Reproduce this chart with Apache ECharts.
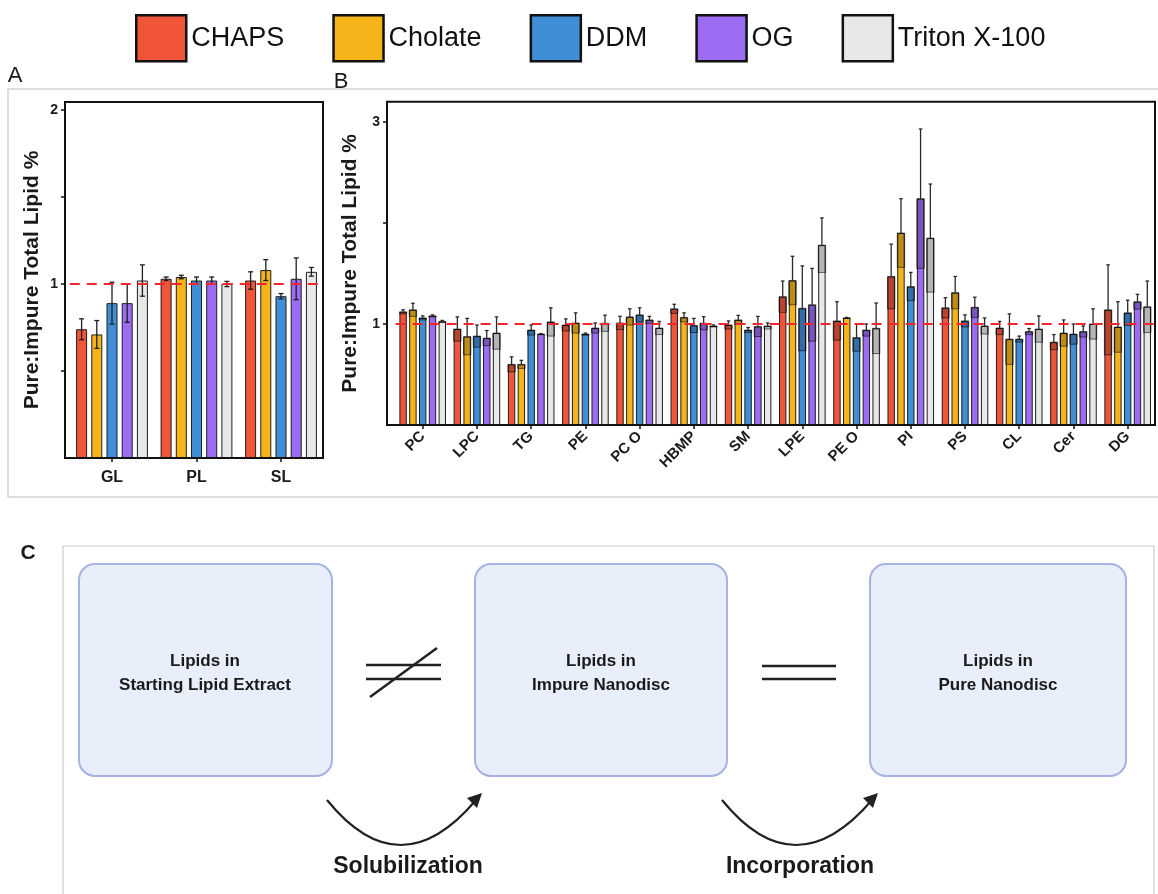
<!DOCTYPE html>
<html>
<head>
<meta charset="utf-8">
<script src="https://cdn.jsdelivr.net/npm/echarts@6/dist/echarts.min.js"></script>
<style>
html,body{margin:0;padding:0;background:#fff;}
#chart{width:1158px;height:894px;}
</style>
</head>
<body>
<div id="chart"></div>
<script>
// ---------------- DATA ----------------
const DETERGENTS = ['CHAPS', 'Cholate', 'DDM', 'OG', 'Triton X-100'];

// Panel A: lipid categories
const CATS_A = ['GL', 'PL', 'SL'];
// rows: CHAPS, Cholate, DDM, OG, Triton X-100
const A_MEANS = [
  [0.74, 1.03, 1.02],
  [0.71, 1.04, 1.08],
  [0.89, 1.02, 0.93],
  [0.89, 1.02, 1.03],
  [1.02, 1.00, 1.07]
];
const A_ERRS = [
  [0.06, 0.01, 0.05],
  [0.08, 0.01, 0.06],
  [0.12, 0.02, 0.015],
  [0.11, 0.02, 0.12],
  [0.09, 0.015, 0.025]
];

// Panel B: lipid classes
const CATS_B = ['PC', 'LPC', 'TG', 'PE', 'PC O', 'HBMP', 'SM', 'LPE', 'PE O', 'PI', 'PS', 'CL', 'Cer', 'DG'];
const B_MEANS = [
  [1.12, 0.95, 0.60, 0.99, 1.01, 1.15, 0.99, 1.27, 1.03, 1.47, 1.16, 0.96, 0.82, 1.14],
  [1.14, 0.875, 0.60, 1.01, 1.07, 1.065, 1.04, 1.43, 1.06, 1.90, 1.31, 0.85, 0.91, 0.97],
  [1.06, 0.88, 0.94, 0.90, 1.09, 0.985, 0.94, 1.155, 0.865, 1.37, 1.03, 0.85, 0.90, 1.11],
  [1.08, 0.86, 0.90, 0.96, 1.04, 1.007, 0.975, 1.19, 0.94, 2.24, 1.165, 0.925, 0.925, 1.22],
  [1.025, 0.91, 1.02, 1.007, 0.96, 0.98, 0.98, 1.78, 0.957, 1.85, 0.98, 0.95, 1.00, 1.17]
];
const B_ERRS = [
  [0.02, 0.12, 0.075, 0.06, 0.066, 0.045, 0.04, 0.155, 0.19, 0.32, 0.10, 0.065, 0.075, 0.445],
  [0.065, 0.18, 0.04, 0.10, 0.08, 0.045, 0.045, 0.24, 0.005, 0.34, 0.16, 0.25, 0.13, 0.25],
  [0.02, 0.11, 0.05, 0.01, 0.07, 0.07, 0.025, 0.42, 0.135, 0.14, 0.06, 0.03, 0.10, 0.125],
  [0.01, 0.075, 0.005, 0.05, 0.035, 0.065, 0.10, 0.36, 0.06, 0.69, 0.10, 0.03, 0.055, 0.073],
  [0.01, 0.16, 0.14, 0.08, 0.065, 0.01, 0.03, 0.27, 0.25, 0.535, 0.08, 0.13, 0.15, 0.255]
];

const A_LABEL_TICKS = [1, 2];
const A_TICKS = [0.5, 1, 1.5, 2];
const B_LABEL_TICKS = [1, 3];
const B_TICKS = [1, 2, 3];
const REF_VALUE = 1;

const Y_TITLE = 'Pure:Impure Total Lipid %';

// ---------------- STYLE ----------------
const COLORS = ['#f0553a', '#f5b41a', '#3f8ed6', '#9c6cf2', '#e8e8e8'];
const FONT = "'Liberation Sans', Arial, Helvetica, sans-serif";

const A_BAR_W = 11, A_PITCH = 15.2;
const B_BAR_W = 7.4, B_PITCH = 9.8;

function errA(off) {
  return function (params, api) {
    const k = api.value(0), m = api.value(1), e = api.value(2);
    const t = api.coord([k, m + e]);
    const b = api.coord([k, m - e]);
    const c = api.coord([k, m]);
    const x = c[0] + off;
    const st = { stroke: '#1e1e1e', lineWidth: 1.3 };
    const cw = 2.5;
    return {
      type: 'group', children: [
        { type: 'line', shape: { x1: x, y1: t[1], x2: x, y2: b[1] }, style: st },
        { type: 'line', shape: { x1: x - cw, y1: t[1], x2: x + cw, y2: t[1] }, style: st },
        { type: 'line', shape: { x1: x - cw, y1: b[1], x2: x + cw, y2: b[1] }, style: st }
      ]
    };
  };
}
function errB(off) {
  return function (params, api) {
    const k = api.value(0), m = api.value(1), e = api.value(2);
    const t = api.coord([k, m + e]);
    const b = api.coord([k, m - e]);
    const c = api.coord([k, m]);
    const x = c[0] + off;
    const w = B_BAR_W;
    const cw = 1.8;
    return {
      type: 'group', children: [
        { type: 'rect', shape: { x: x - w / 2, y: c[1], width: w, height: b[1] - c[1] },
          style: { fill: 'rgba(0,0,0,0.22)', stroke: 'rgba(0,0,0,0.55)', lineWidth: 1 } },
        { type: 'line', shape: { x1: x, y1: t[1], x2: x, y2: c[1] }, style: { stroke: '#2a2a2a', lineWidth: 1.3 } },
        { type: 'line', shape: { x1: x - cw, y1: t[1], x2: x + cw, y2: t[1] }, style: { stroke: '#2a2a2a', lineWidth: 1.3 } }
      ]
    };
  };
}

const refLine = {
  silent: true, symbol: 'none', label: { show: false },
  lineStyle: { color: '#f2262e', type: [10, 7], width: 2 },
  emphasis: { disabled: true },
  data: [{ yAxis: REF_VALUE }]
};

const series = [];
DETERGENTS.forEach(function (name, i) {
  series.push({
    type: 'bar', name: name, xAxisIndex: 0, yAxisIndex: 0,
    data: A_MEANS[i], barWidth: A_BAR_W, barGap: ((A_PITCH - A_BAR_W) / A_BAR_W * 100).toFixed(1) + '%',
    itemStyle: { color: COLORS[i], borderColor: '#1e1e1e', borderWidth: 1 },
    emphasis: { disabled: true },
    markLine: i === 4 ? refLine : undefined
  });
  series.push({
    type: 'bar', name: name, xAxisIndex: 1, yAxisIndex: 1,
    data: B_MEANS[i], barWidth: B_BAR_W, barGap: ((B_PITCH - B_BAR_W) / B_BAR_W * 100).toFixed(1) + '%',
    itemStyle: { color: COLORS[i], borderColor: '#1e1e1e', borderWidth: 1 },
    emphasis: { disabled: true },
    markLine: i === 4 ? refLine : undefined
  });
});
DETERGENTS.forEach(function (name, i) {
  series.push({
    type: 'custom', name: 'errA' + i, xAxisIndex: 0, yAxisIndex: 0, z: 3, silent: true,
    encode: { x: 0, y: 1 },
    data: A_MEANS[i].map(function (m, k) { return [k, m, A_ERRS[i][k]]; }),
    renderItem: errA((i - 2) * A_PITCH)
  });
  series.push({
    type: 'custom', name: 'errB' + i, xAxisIndex: 1, yAxisIndex: 1, z: 3, silent: true,
    encode: { x: 0, y: 1 },
    data: B_MEANS[i].map(function (m, k) { return [k, m, B_ERRS[i][k]]; }),
    renderItem: errB((i - 2) * B_PITCH)
  });
});

const axisLabelStyle = { color: '#1a1a1a', fontWeight: 'bold', fontFamily: FONT };

function box(x, y, w, h) {
  return { type: 'rect', shape: { x: x, y: y, width: w, height: h, r: 16 },
    style: { fill: '#e9eefb', stroke: '#a6b2e2', lineWidth: 2 } };
}
function txt(x, y, s, size, align, weight) {
  return { type: 'text', x: x, y: y,
    style: { text: s, fontSize: size, fontFamily: FONT, fontWeight: weight || 'bold', fill: '#1a1a1a',
      align: align || 'center', verticalAlign: 'middle' } };
}
function seg(x1, y1, x2, y2, w) {
  return { type: 'line', shape: { x1: x1, y1: y1, x2: x2, y2: y2 }, style: { stroke: '#222', lineWidth: w || 2.5 } };
}

const graphic = [
  // panel frames (light gray)
  { type: 'rect', shape: { x: 8, y: 89, width: 1170, height: 408 }, style: { fill: 'none', stroke: '#d2d2d2', lineWidth: 1.5 }, z: -1 },
  // plot frames
  { type: 'rect', shape: { x: 65, y: 102, width: 258, height: 356 }, style: { fill: 'none', stroke: '#111', lineWidth: 2 }, z: 20 },
  { type: 'rect', shape: { x: 387, y: 101.7, width: 768, height: 323.3 }, style: { fill: 'none', stroke: '#111', lineWidth: 2 }, z: 20 },
  txt(15, 76, 'A', 22, 'center', 'normal'),
  txt(341, 82, 'B', 22, 'center', 'normal'),
  // panel C
  txt(28, 553, 'C', 21, 'center', 'bold'),
  { type: 'rect', shape: { x: 63, y: 546, width: 1091, height: 380 }, style: { fill: '#fff', stroke: '#cccccc', lineWidth: 1.2 }, z: -1 },
  box(79, 564, 253, 212),
  box(475, 564, 252, 212),
  box(870, 564, 256, 212),
  txt(205, 661, 'Lipids in', 17),
  txt(205, 685, 'Starting Lipid Extract', 17),
  txt(601, 661, 'Lipids in', 17),
  txt(601, 685, 'Impure Nanodisc', 17),
  txt(998, 661, 'Lipids in', 17),
  txt(998, 685, 'Pure Nanodisc', 17),
  seg(366, 665, 441, 665), seg(366, 679, 441, 679), seg(370, 697, 437, 648),
  seg(762, 666, 836, 666), seg(762, 679, 836, 679),
  { type: 'bezierCurve', shape: { x1: 327, y1: 800, x2: 476, y2: 800, cpx1: 400, cpy1: 890 }, style: { stroke: '#222', lineWidth: 2.2, fill: 'none' } },
  { type: 'polygon', shape: { points: [[482, 793], [467, 798], [477, 808]] }, style: { fill: '#222' } },
  { type: 'bezierCurve', shape: { x1: 722, y1: 800, x2: 872, y2: 800, cpx1: 795, cpy1: 890 }, style: { stroke: '#222', lineWidth: 2.2, fill: 'none' } },
  { type: 'polygon', shape: { points: [[878, 793], [863, 798], [873, 808]] }, style: { fill: '#222' } },
  txt(408, 867, 'Solubilization', 23),
  txt(800, 867, 'Incorporation', 23)
];

const option = {
  animation: false,
  backgroundColor: '#ffffff',
  textStyle: { fontFamily: FONT },
  legend: {
    data: DETERGENTS, left: 130, top: 9, icon: 'rect',
    itemWidth: 50, itemHeight: 46, itemGap: 48, selectedMode: false,
    itemStyle: { borderColor: '#111', borderWidth: 2.5 },
    textStyle: { fontSize: 27, fontFamily: FONT, color: '#111' }
  },
  grid: [
    { left: 69.75, top: 102, width: 253.5, height: 356 },
    { left: 395.6, top: 101.7, width: 759.2, height: 323.3 }
  ],
  xAxis: [
    { type: 'category', gridIndex: 0, data: CATS_A,
      axisLine: { show: false },
      axisTick: { show: true, alignWithLabel: true, length: 4, lineStyle: { color: '#111', width: 1.5 } },
      axisLabel: Object.assign({ fontSize: 16, margin: 12 }, axisLabelStyle) },
    { type: 'category', gridIndex: 1, data: CATS_B,
      axisLine: { show: false },
      axisTick: { show: true, alignWithLabel: true, length: 4, lineStyle: { color: '#111', width: 1.5 } },
      axisLabel: Object.assign({ fontSize: 15, margin: 9, rotate: 45, interval: 0 }, axisLabelStyle) }
  ],
  yAxis: [
    { type: 'value', gridIndex: 0, min: 0, max: 2.046, offset: 4.75,
      splitLine: { show: false }, axisLine: { show: false },
      axisTick: { show: true, length: 4, customValues: A_TICKS, lineStyle: { color: '#111', width: 1.5 } },
      axisLabel: Object.assign({ fontSize: 14, margin: 7, customValues: A_LABEL_TICKS }, axisLabelStyle),
      name: Y_TITLE, nameLocation: 'middle', nameRotate: 90, nameGap: 22,
      nameTextStyle: { fontSize: 21, fontWeight: 'bold', color: '#1a1a1a', fontFamily: FONT } },
    { type: 'value', gridIndex: 1, min: 0, max: 3.2, offset: 8.6,
      splitLine: { show: false }, axisLine: { show: false },
      axisTick: { show: true, length: 4, customValues: B_TICKS, lineStyle: { color: '#111', width: 1.5 } },
      axisLabel: Object.assign({ fontSize: 14, margin: 7, customValues: B_LABEL_TICKS }, axisLabelStyle),
      name: Y_TITLE, nameLocation: 'middle', nameRotate: 90, nameGap: 26,
      nameTextStyle: { fontSize: 21, fontWeight: 'bold', color: '#1a1a1a', fontFamily: FONT } }
  ],
  series: series,
  graphic: graphic
};

const chart = echarts.init(document.getElementById('chart'), null, { renderer: 'canvas' });
chart.setOption(option);
</script>
</body>
</html>
